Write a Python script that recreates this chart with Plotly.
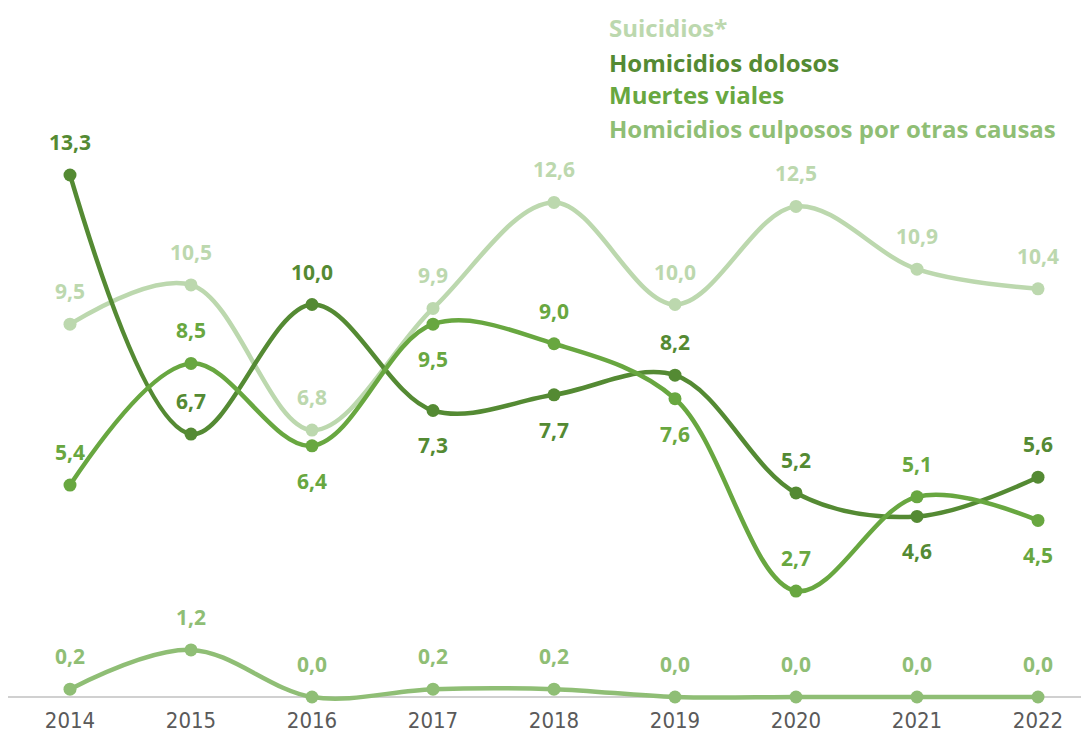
import plotly.graph_objects as go

years = [2014, 2015, 2016, 2017, 2018, 2019, 2020, 2021, 2022]
tick_labels = [str(y) for y in years]

series_names = ["Suicidios*", "Homicidios dolosos", "Muertes viales",
                "Homicidios culposos por otras causas"]
suicidios = [9.5, 10.5, 6.8, 9.9, 12.6, 10.0, 12.5, 10.9, 10.4]
dolosos = [13.3, 6.7, 10.0, 7.3, 7.7, 8.2, 5.2, 4.6, 5.6]
viales = [5.4, 8.5, 6.4, 9.5, 9.0, 7.6, 2.7, 5.1, 4.5]
culposos = [0.2, 1.2, 0.0, 0.2, 0.2, 0.0, 0.0, 0.0, 0.0]

# label placement: 1 = above, -1 = below
pos_suicidios = [1, 1, 1, 1, 1, 1, 1, 1, 1]
pos_dolosos = [1, 1, 1, -1, -1, 1, 1, -1, 1]
pos_viales = [1, 1, -1, -1, 1, -1, 1, 1, -1]
pos_culposos = [1, 1, 1, 1, 1, 1, 1, 1, 1]

colors = ["#bcd8ae", "#548a33", "#68a740", "#8fbe75"]

data = [suicidios, dolosos, viales, culposos]
positions = [pos_suicidios, pos_dolosos, pos_viales, pos_culposos]

LABEL_FONT = "Open Sans"
PX_PER_UNIT = 39.25
PX_PER_YEAR = 121
PLOT_H = 694  # height of plotting area in px

fig = go.Figure()
annotations = []
for name, vals, pos, col in zip(series_names, data, positions, colors):
    fig.add_trace(go.Scatter(
        x=years, y=vals, name=name, mode="lines+markers",
        line=dict(color=col, width=4.5, shape="spline", smoothing=1.0),
        marker=dict(color=col, size=13),
        cliponaxis=False, showlegend=False,
    ))
    for xv, yv, p in zip(years, vals, pos):
        annotations.append(dict(
            x=xv, y=yv, xref="x", yref="y",
            text=f"{yv:.1f}".replace(".", ","),
            showarrow=False,
            yshift=33 if p > 0 else -35,
            font=dict(family=LABEL_FONT, size=21, color=col, weight=700),
        ))

legend_y = [19, 54, 87, 120]
for name, col, ly in zip(series_names, colors, legend_y):
    annotations.append(dict(
        x=599 / 1089, y=1 - ly / PLOT_H, xref="paper", yref="paper",
        xanchor="left", yanchor="middle", text=name, showarrow=False,
        font=dict(family=LABEL_FONT, size=24, color=col, weight=700),
    ))

fig.update_layout(
    width=1089, height=742,
    margin=dict(l=0, r=0, t=0, b=742 - PLOT_H, autoexpand=False),
    paper_bgcolor="white", plot_bgcolor="white",
    annotations=annotations,
    xaxis=dict(
        range=[2014 - 62 / PX_PER_YEAR, 2022 + 59 / PX_PER_YEAR],
        tickvals=years, ticktext=tick_labels, automargin=False,
        showgrid=False, zeroline=False, showline=False, ticks="",
        ticklabelstandoff=3,
        tickfont=dict(family="DejaVu Sans Condensed, sans-serif",
                      size=22, color="#5a5a5a"),
    ),
    yaxis=dict(
        range=[-5 / PX_PER_UNIT, 689 / PX_PER_UNIT], automargin=False,
        showgrid=False, zeroline=True, zerolinecolor="#d0d0d0", zerolinewidth=2,
        showticklabels=False, showline=False, ticks="",
    ),
)

fig.write_html("out.html")
